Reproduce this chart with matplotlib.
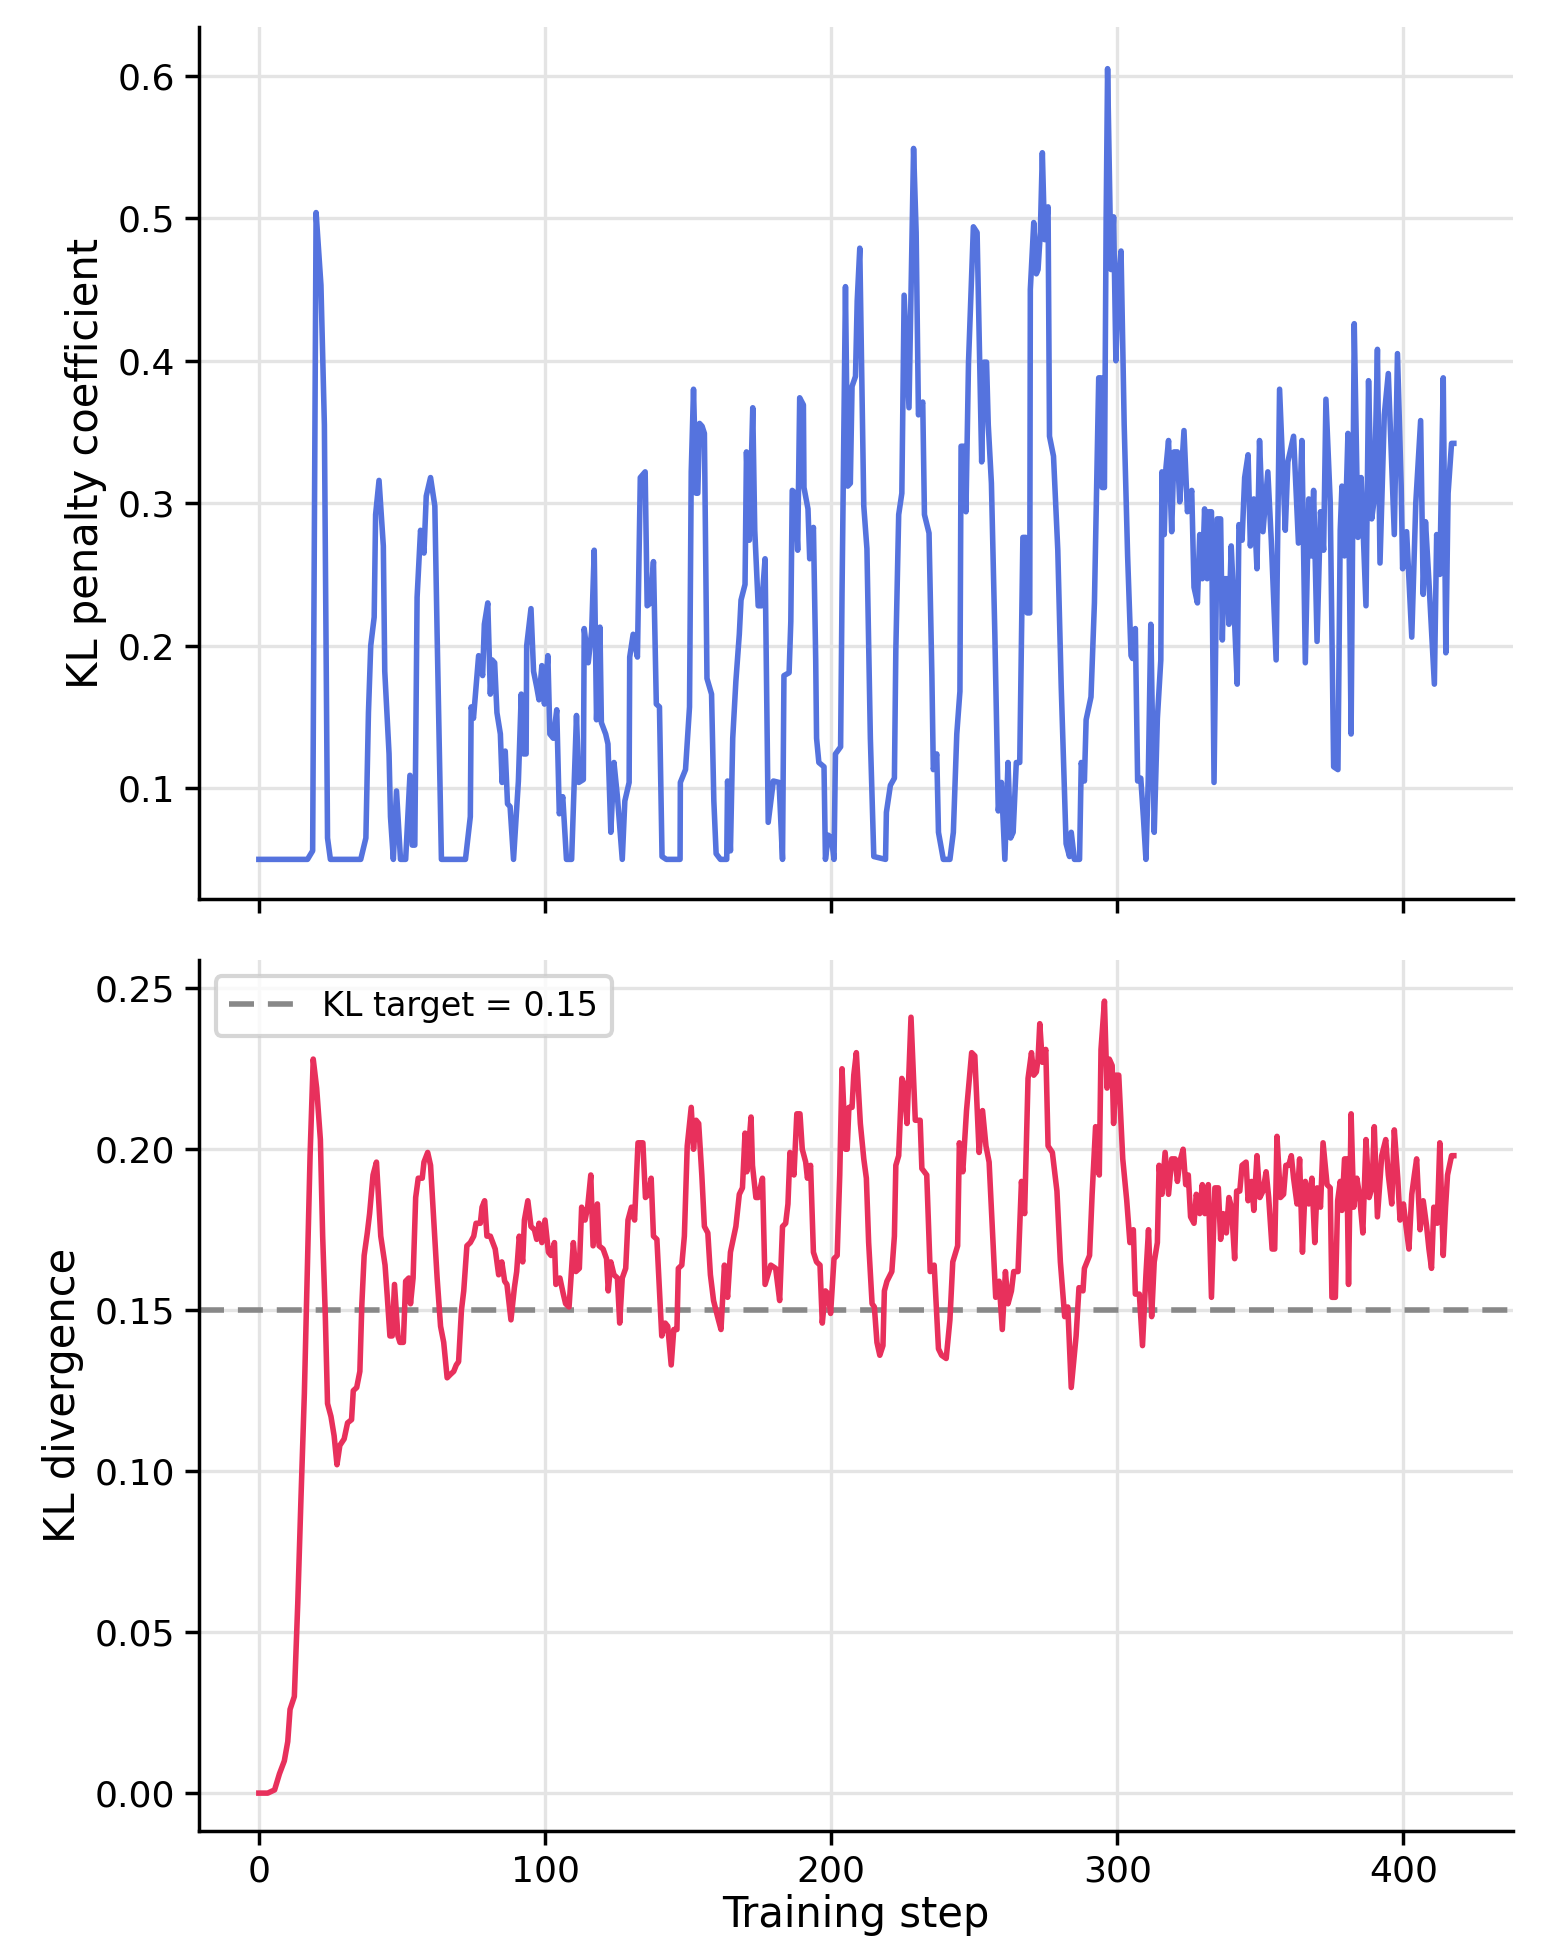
import matplotlib
matplotlib.use("Agg")
import matplotlib.pyplot as plt

# ---------------- data ----------------
coef_steps = [0, 17, 18.8, 20, 21.7, 22.9, 24, 25, 35.6, 37.4, 38.3, 39.1, 40.3, 40.8, 42, 43.5, 44, 45.5, 46, 47,
              48.1, 49.5, 51.3, 52.8, 53.6, 54.5, 55.3, 56.5, 57.7, 58.5, 60, 61.5, 62.3, 63.8, 72.2, 73.9, 74.2, 75,
              76.8, 78.2, 78.8, 80, 80.9,
              81.5, 82.4, 83.2, 84.4, 85, 86.1, 86.9, 87.8, 89, 90.7, 91.7, 92.5, 93.4, 93.6, 95.1, 96, 97.1, 97.9,
              98.9, 99.8, 101, 101.7, 102.9, 104.1, 105, 106.2, 107.5, 109.3, 111, 111.8, 113.4, 113.7, 115.1, 116.3,
              117.2, 118, 119.2, 119.7, 121.2, 122, 123, 124.1, 125.3, 127, 127.9, 129.4, 129.6, 130.8, 132.3, 133.3,
              135, 135.7, 136.9, 137.9, 138.9, 140, 140.9, 142.4, 147.2, 147.3, 149.1, 150.5, 151.1, 151.9, 152.8,
              153.4, 154, 154.9, 155.7, 156.6, 158.2, 159, 159.8, 161.3, 163.5, 163.8, 164.8,
              165.6, 166.7, 167.9, 168.5, 169.9, 170.4, 171.4, 172.6, 173.3, 174.5, 175.7, 176.9, 178, 179.8, 181.8,
              183, 183.5, 185.3, 185.9, 186.4, 187.4, 188.3, 189, 190.3, 190.5, 191.9, 192.5, 193.8, 194.6, 194.9,
              195.7, 197.5, 198, 199, 200.1, 201, 201.5, 203.3, 203.8, 205, 205.8, 206.7, 207.3, 208.5, 209.1, 210,
              211.4, 212.5, 213.7, 214.9, 219, 219.3, 220.7, 222.1, 222.6, 223.6, 224.7, 225.5, 227.2, 228.8, 229.7,
              230.5, 232, 232.6, 234.2, 235.2, 235.7, 236.9, 237.5, 239.2, 241.5, 242.7, 243.9, 245, 245.4, 246.2,
              247.1, 248,
              249.7, 251, 252.6, 253.4, 254.3, 254.9, 256, 257.2, 258.4, 259.5, 260.7, 261.8, 262.7, 263.6, 264.7,
              265.9, 267, 268, 268.5, 269.4, 269.6, 270.8, 271.7, 272.3, 273.1, 273.8, 274.6, 275.8, 276.3, 277.7,
              279.2, 280.4, 282.1, 283.3, 283.9, 285, 286.8, 287.4, 288.5, 289.1, 290.8, 292, 293.5, 294.3, 294.7,
              295.5, 296.1, 296.6, 297.8, 298.7, 299.5, 300.4, 301.3, 302.4, 303.6, 304.8, 305.3, 306.3, 307.1,
              308.2, 309.1, 310, 310.8, 311.7, 312.9, 314, 315.2, 315.6, 316.4, 317, 317.9,
              319, 319.8, 321, 321.8, 323.3, 324.5, 326, 326.8, 328, 328.8, 329.7, 330.5, 331.4, 332, 332.9, 333.8,
              334.9, 336.1, 336.7, 337.2, 338.4, 339, 339.8, 340.7, 341.9, 342.5, 343.6, 344.5, 345.7, 346.5, 347.7,
              348.8, 349.7, 350.9, 352.6, 353.8, 355.5, 356.7, 358.7, 359.6, 361.6, 363.3, 364.5, 365.7,
              366.9, 367.8, 368.6, 369.8, 371, 372.1, 372.9, 374.4, 375.6, 377.1, 377.9, 378.5, 379.4, 380.6, 381.7,
              382.8, 384.1, 385.2, 386.9, 387.8, 388.9, 389.8, 390.9, 391.8, 393.3, 394.7, 395.7, 396.8, 397.9,
              399.2, 399.7, 401.1, 402.9, 404.3, 406, 406.9, 407.7, 408.9, 410.8, 411.6, 412.7, 413.9, 414.8, 415.6,
              416.8, 417.6]
coef_values = [0.05, 0.05, 0.056, 0.504, 0.453, 0.355, 0.065, 0.05, 0.05, 0.065, 0.153, 0.2, 0.22, 0.292, 0.316,
               0.27, 0.182, 0.124, 0.08, 0.05, 0.098, 0.05, 0.05, 0.109, 0.06, 0.06, 0.234, 0.281, 0.265, 0.305,
               0.318, 0.298, 0.208, 0.05, 0.05, 0.08, 0.157, 0.149, 0.193, 0.179, 0.215, 0.23, 0.166,
               0.19, 0.188, 0.153, 0.138, 0.104, 0.126, 0.089, 0.087, 0.05, 0.105, 0.166, 0.124, 0.124, 0.2, 0.226,
               0.182, 0.171, 0.162, 0.186, 0.159, 0.193, 0.138, 0.135, 0.155, 0.082, 0.094, 0.05, 0.05, 0.151, 0.104,
               0.106, 0.212, 0.188, 0.21, 0.267, 0.148, 0.213, 0.146, 0.138, 0.131, 0.069, 0.118, 0.094, 0.05, 0.091,
               0.104, 0.192, 0.208, 0.192, 0.318, 0.322, 0.228, 0.23, 0.259, 0.159, 0.157, 0.052, 0.05, 0.05, 0.104,
               0.113, 0.157, 0.322, 0.38, 0.307, 0.307, 0.356, 0.354, 0.349, 0.177, 0.166, 0.091, 0.054, 0.05, 0.05,
               0.105, 0.056,
               0.135, 0.175, 0.208, 0.232, 0.243, 0.336, 0.274, 0.367, 0.281, 0.228, 0.228, 0.261, 0.076, 0.105,
               0.104, 0.05, 0.179, 0.181, 0.217, 0.309, 0.307, 0.267, 0.374, 0.369, 0.311, 0.296, 0.261, 0.283, 0.19,
               0.135, 0.118, 0.115, 0.05, 0.067, 0.065, 0.05, 0.124, 0.129, 0.237, 0.452, 0.312, 0.314, 0.382, 0.389,
               0.442, 0.479, 0.298, 0.268, 0.135, 0.052, 0.05, 0.083, 0.102, 0.107, 0.197, 0.292, 0.307, 0.446,
               0.367, 0.549, 0.49, 0.362, 0.371, 0.292, 0.279, 0.179, 0.113, 0.124, 0.069, 0.05, 0.05, 0.069, 0.138,
               0.168, 0.34, 0.34, 0.294, 0.399,
               0.494, 0.49, 0.329, 0.399, 0.399, 0.355, 0.314, 0.208, 0.084, 0.104, 0.05, 0.118, 0.065, 0.069, 0.118,
               0.118, 0.276, 0.276, 0.223, 0.223, 0.45, 0.497, 0.461, 0.464, 0.49, 0.546, 0.485, 0.508, 0.347, 0.333,
               0.267, 0.171, 0.061, 0.052, 0.069, 0.05, 0.05, 0.118, 0.105, 0.148, 0.164, 0.23, 0.388, 0.388, 0.311,
               0.311, 0.501, 0.605, 0.464, 0.501, 0.4, 0.457, 0.477, 0.355, 0.263, 0.193, 0.191, 0.212, 0.105, 0.107,
               0.08, 0.05, 0.105, 0.215, 0.069, 0.149, 0.19, 0.322, 0.278, 0.325, 0.344,
               0.28, 0.336, 0.336, 0.301, 0.351, 0.294, 0.309, 0.241, 0.23, 0.278, 0.247, 0.296, 0.247, 0.294, 0.294,
               0.104, 0.289, 0.289, 0.204, 0.247, 0.247, 0.215, 0.27, 0.23, 0.173, 0.285, 0.274, 0.318, 0.334, 0.27,
               0.303, 0.254, 0.344, 0.28, 0.322, 0.274, 0.19, 0.38, 0.281, 0.329, 0.347, 0.272, 0.344, 0.188,
               0.303, 0.263, 0.309, 0.203, 0.294, 0.267, 0.373, 0.301, 0.115, 0.113, 0.281, 0.312, 0.263, 0.349,
               0.138, 0.426, 0.276, 0.318, 0.228, 0.386, 0.289, 0.303, 0.408, 0.258, 0.362, 0.391, 0.338, 0.278,
               0.405, 0.312, 0.254, 0.28, 0.206, 0.3, 0.358, 0.236, 0.287, 0.245, 0.173, 0.278, 0.25, 0.388, 0.195,
               0.307, 0.342, 0.342]

kl_steps = [0, 3.1, 5.5, 7.2, 8.9, 10.1, 10.9, 12.4, 13.6, 14.7, 15.9, 17, 17.9, 19, 20.2, 21.5, 22.3, 23.2, 24,
            25.2, 26.3, 27.3, 28.3, 29.8, 31, 32.4, 33, 34.2, 35.3, 36, 36.8, 37.9, 38.7, 39.9, 41.1, 42.6, 44.1,
            44.9, 45.8, 46.6, 47.4, 48.6, 49.3, 50.5, 51.3, 52.4, 53, 53.9, 54.8, 55.7, 57.1, 57.7, 59, 60, 61.1,
            62.3, 63.5, 64.6, 65.8, 66.9, 68.1, 69, 69.8, 70.8, 71.6, 72.7, 73.9, 75.1, 75.9, 77.4, 78, 78.9, 79.7,
            80.9,
            82.6, 83.8, 84.9, 85.9, 86.7, 88.1, 89.3, 90.1, 91, 92.2, 92.8, 94, 95.1, 96.3, 97.1, 97.9, 98.9, 100,
            101.2, 102.1, 103.3, 103.8, 105.2, 106.4, 107.2, 108.4, 109.9, 110.8, 112, 112.8, 114, 114.9, 116, 116.8,
            118.3, 118.9, 120.3, 121.5, 122.1, 123, 124.1, 125.3, 126.1, 127, 128.2, 129, 130.2, 131.3, 132.5,
            134.2, 135.1, 136.2, 137.1, 137.9, 139.1, 140.8, 142, 142.9, 144.1, 145, 146.1, 146.6, 147.8, 148.7,
            149.7, 151.1, 151.9, 152.8, 153.7, 154.8, 155.7, 156.9, 157.8, 158.9, 160.3, 161.5, 162.7, 163.8, 164.8,
            166.7, 167.9, 169, 169.9, 170.5, 172, 172.5, 173.7, 174.5, 176, 176.9, 178.9, 180.6, 182, 183, 184.1,
            184.9, 185.6, 187, 188, 189.1, 189.9, 191.1, 191.7, 192.8, 193.8, 194.9, 196.1, 196.9, 198, 199, 199.8,
            201, 202.1, 203, 203.8, 205, 205.6, 206.2, 207.3, 207.9, 208.8, 210.2, 211.4, 212.3, 213.1, 214.3,
            215.1, 216, 217, 218.1, 218.6, 219.5, 221.2, 222.1, 222.6, 223.6, 224.7, 225.5, 226.5, 227.9, 229.4,
            231.1, 231.7, 233.4, 234.6, 236, 237.5, 238.6, 240.2, 241.5, 242.5, 244.2, 244.8, 246, 247.3,
            249.1, 250.2, 251.7, 252.9, 254.1, 255.2, 256.4, 257.5, 258.7, 259.8, 260.9, 261.8, 263, 263.8, 265.3,
            266.5, 267.6, 268.8, 270, 270.8, 271.7, 272.3, 272.9, 273.8, 275, 275.8, 277.3, 278.9, 280.1, 281.6,
            282.7, 283.9, 285.6, 286.6, 288, 288.5, 290.3, 291.2, 292.4, 293.7, 294.3, 295.5, 296.4, 297.2, 298.2,
            298.7, 299.5, 300.5, 301.9, 303.3, 304.4, 305.6, 306.3, 307.7, 308.8, 310, 310.9, 312, 312.9, 314,
            314.6, 315.6, 316.7, 317.9,
            319, 320.2, 321, 321.8, 323, 323.9, 324.8, 325.6, 326.8, 327.6, 328.8, 329.7, 330.6, 331.8, 332.9,
            334.1, 335.3, 336.1, 337, 338.1, 339, 339.9, 341, 341.7, 342.8, 343.6, 345, 345.7, 346.9, 347.7, 348.8,
            349.8, 350.9, 352, 352.9, 354.1, 355, 355.8, 357, 358.1, 358.9, 359.9, 360.8, 361.6, 362.8, 363.7,
            364.7, 365.7,
            366.9, 368, 369, 369.8, 371, 371.9, 373.3, 374.4, 375, 376.2, 377, 377.9, 378.5, 379.4, 380.2, 380.8,
            381.7, 382.6, 383.7, 384.6, 385.8, 386.9, 388, 389, 389.8, 390.9, 392.4, 393.8, 394.7, 395.9, 396.8,
            398, 398.8, 400, 400.9, 401.9, 402.9, 403.8, 404.6, 405.8, 406.9, 408.1, 408.9, 409.8, 410.6, 411.8,
            412.7, 413.9, 414.7, 415.4, 416.8, 417.6]
kl_values = [0.0, 0.0, 0.001, 0.006, 0.01, 0.016, 0.026, 0.03, 0.059, 0.091, 0.124, 0.165, 0.198, 0.228, 0.219,
             0.203, 0.173, 0.149, 0.121, 0.117, 0.111, 0.102, 0.108, 0.11, 0.115, 0.116, 0.125, 0.126, 0.131, 0.152,
             0.167, 0.174, 0.18, 0.192, 0.196, 0.173, 0.164, 0.154, 0.142, 0.142, 0.158, 0.142, 0.14, 0.14, 0.159,
             0.16, 0.152, 0.16, 0.185, 0.191, 0.191, 0.196, 0.199, 0.195, 0.178, 0.16, 0.145, 0.14, 0.129, 0.13,
             0.131, 0.133, 0.134, 0.15, 0.156, 0.17, 0.171, 0.173, 0.177, 0.177, 0.182, 0.184, 0.173, 0.173,
             0.169, 0.161, 0.165, 0.159, 0.158, 0.147, 0.157, 0.162, 0.173, 0.165, 0.178, 0.184, 0.176, 0.175,
             0.172, 0.177, 0.171, 0.178, 0.168, 0.167, 0.171, 0.158, 0.16, 0.155, 0.152, 0.151, 0.171, 0.162, 0.163,
             0.182, 0.178, 0.182, 0.192, 0.17, 0.183, 0.17, 0.169, 0.166, 0.156, 0.165, 0.161, 0.16, 0.146, 0.16,
             0.163, 0.178, 0.182, 0.178, 0.202, 0.202, 0.185, 0.186, 0.191, 0.173, 0.172, 0.142, 0.146, 0.145,
             0.133, 0.144, 0.144, 0.163, 0.164, 0.173, 0.201, 0.213, 0.2, 0.209, 0.208, 0.192, 0.176, 0.174, 0.161,
             0.153, 0.148, 0.144, 0.164, 0.154, 0.168,
             0.176, 0.186, 0.188, 0.205, 0.193, 0.21, 0.195, 0.185, 0.185, 0.191, 0.158, 0.164, 0.163, 0.153, 0.176,
             0.177, 0.183, 0.199, 0.192, 0.211, 0.211, 0.2, 0.196, 0.191, 0.195, 0.168, 0.165, 0.164, 0.146, 0.156,
             0.155, 0.149, 0.166, 0.167, 0.192, 0.225, 0.2, 0.2, 0.213, 0.213, 0.223, 0.23, 0.208, 0.197, 0.191,
             0.171, 0.152, 0.151, 0.14, 0.136, 0.139, 0.156, 0.159, 0.162, 0.173, 0.195, 0.198, 0.222, 0.22, 0.208,
             0.241, 0.209, 0.209, 0.194, 0.192, 0.162, 0.164, 0.138, 0.136, 0.135, 0.147, 0.165, 0.17, 0.202,
             0.193, 0.212,
             0.23, 0.229, 0.199, 0.212, 0.201, 0.196, 0.174, 0.154, 0.159, 0.144, 0.162, 0.152, 0.156, 0.162, 0.162,
             0.19, 0.18, 0.222, 0.23, 0.223, 0.224, 0.228, 0.239, 0.227, 0.231, 0.201, 0.199, 0.187, 0.165, 0.148,
             0.151, 0.126, 0.142, 0.157, 0.156, 0.163, 0.167, 0.186, 0.207, 0.192, 0.231, 0.246, 0.219, 0.228,
             0.226, 0.208, 0.223, 0.223, 0.197, 0.184, 0.171, 0.175, 0.155, 0.155, 0.139, 0.161, 0.175, 0.148,
             0.165, 0.171, 0.195, 0.186, 0.199, 0.186,
             0.197, 0.197, 0.19, 0.196, 0.2, 0.189, 0.192, 0.179, 0.177, 0.186, 0.18, 0.189, 0.18, 0.189, 0.154,
             0.188, 0.188, 0.172, 0.18, 0.174, 0.185, 0.182, 0.166, 0.187, 0.187, 0.195, 0.196, 0.184, 0.19, 0.181,
             0.198, 0.185, 0.187, 0.193, 0.185, 0.169, 0.169, 0.204, 0.185, 0.186, 0.195, 0.195, 0.198, 0.191,
             0.183, 0.197, 0.168, 0.19,
             0.183, 0.191, 0.171, 0.188, 0.182, 0.202, 0.189, 0.188, 0.154, 0.154, 0.184, 0.19, 0.181, 0.197, 0.197,
             0.158, 0.211, 0.182, 0.191, 0.186, 0.174, 0.203, 0.185, 0.188, 0.207, 0.179, 0.198, 0.203, 0.192,
             0.183, 0.206, 0.191, 0.178, 0.183, 0.176, 0.169, 0.186, 0.192, 0.197, 0.175, 0.184, 0.176, 0.169,
             0.163, 0.182, 0.177, 0.202, 0.167, 0.182, 0.192, 0.198, 0.198]

kl_target = 0.15
x_ticks = [0, 100, 200, 300, 400]
coef_yticks = [0.1, 0.2, 0.3, 0.4, 0.5, 0.6]
kl_yticks = [0.00, 0.05, 0.10, 0.15, 0.20, 0.25]

# ---------------- figure ----------------
W, H, DPI = 1543, 1954, 200
fig = plt.figure(figsize=(W / DPI, H / DPI), dpi=DPI)
left, right = 0.129, 0.9806
ax1 = fig.add_axes([left, 0.540, right - left, 0.986 - 0.540])
ax2 = fig.add_axes([left, 0.0629, right - left, 0.5089 - 0.0629], sharex=ax1)

blue = "#5573de"
red = "#e8305c"
grid_c = "#e4e4e4"

ax1.plot(coef_steps, coef_values, color=blue, lw=2.0, zorder=3)
ax2.plot(kl_steps, kl_values, color=red, lw=2.0, zorder=3)
ax2.axhline(kl_target, color="#888888", lw=2.0, ls=(0, (4.5, 2.5)), zorder=2,
            label=f"KL target = {kl_target}")

for ax in (ax1, ax2):
    ax.grid(True, color=grid_c, lw=1.2, zorder=0)
    ax.set_axisbelow(True)
    for s in ("top", "right"):
        ax.spines[s].set_visible(False)
    for s in ("left", "bottom"):
        ax.spines[s].set_linewidth(1.25)
    ax.tick_params(labelsize=13, width=1.25, length=5)

ax1.set_xlim(-20.9, 438.3)
ax1.set_xticks(x_ticks)
plt.setp(ax1.get_xticklabels(), visible=False)
ax1.set_ylim(0.0223, 0.634)
ax1.set_yticks(coef_yticks)
ax1.set_yticklabels([f"{v:.1f}" for v in coef_yticks])
ax1.set_ylabel("KL penalty coefficient", fontsize=15)

ax2.set_ylim(-0.0118, 0.2589)
ax2.set_yticks(kl_yticks)
ax2.set_yticklabels([f"{v:.2f}" for v in kl_yticks])
ax2.set_ylabel("KL divergence", fontsize=15)
ax2.set_xlabel("Training step", fontsize=15, labelpad=2)
leg = ax2.legend(loc="upper left", fontsize=12, frameon=True, framealpha=0.8, edgecolor="#cccccc",
                 handlelength=2.0)
leg.get_frame().set_linewidth(1.5)

fig.savefig("out.png", dpi=DPI)
